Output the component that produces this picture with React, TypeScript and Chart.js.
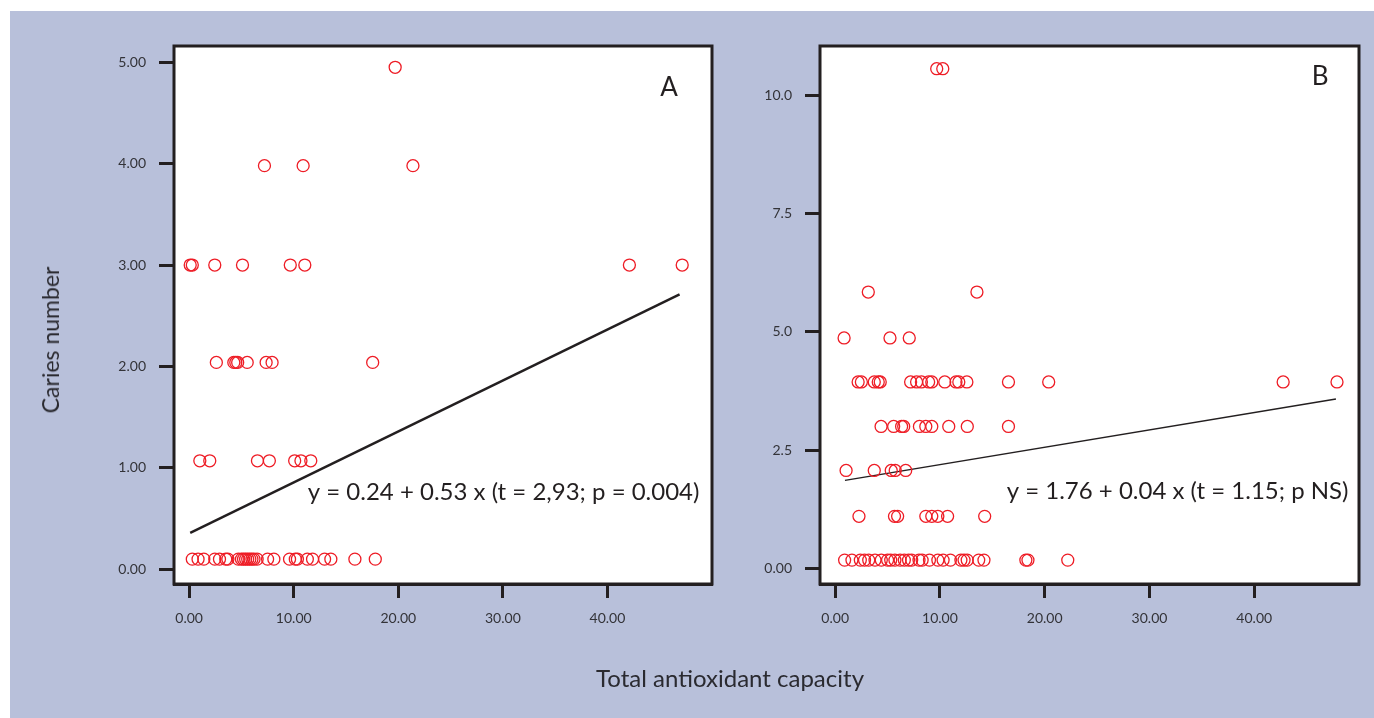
import React, { useEffect, useRef } from 'react';
import { Chart, registerables } from 'chart.js';
Chart.register(...registerables);

// ---- shared axis ticks ----
const xTicks = [0, 10, 20, 30, 40];
const xTickLabels = ['0.00', '10.00', '20.00', '30.00', '40.00'];

// ---- Panel A ----
const aYTicks = [0, 1, 2, 3, 4, 5];
const aYTickLabels = ['0.00', '1.00', '2.00', '3.00', '4.00', '5.00'];
const aLevels = [0.1, 1.07, 2.04, 3.0, 3.98, 4.95];
const aXLvl0 = [0.3, 0.85, 1.4, 2.45, 2.9, 3.5, 3.7, 4.7, 5.0, 5.2, 5.4, 5.6, 5.8, 6.0, 6.2, 6.5, 7.5, 8.1, 9.6, 10.15, 10.35, 11.3, 11.8, 12.95, 13.55, 15.85, 17.8];
const aXLvl1 = [1.02, 1.97, 6.53, 7.67, 10.09, 10.69, 11.63];
const aXLvl2 = [2.6, 4.27, 4.46, 4.64, 5.55, 7.36, 7.93, 17.55];
const aXLvl3 = [0.1, 0.3, 2.45, 5.1, 9.67, 11.06, 42.1, 47.15];
const aXLvl4 = [7.2, 10.9, 21.4];
const aXLvl5 = [19.7];
const aFitX = [0.1, 46.9];
const aFitY = [0.36, 2.71];
const aEquation = 'y = 0.24 + 0.53 x (t = 2,93; p = 0.004)';

// ---- Panel B ----
const bYTicks = [0, 2.5, 5, 7.5, 10];
const bYTickLabels = ['0.00', '2.5', '5.0', '7.5', '10.0'];
const bLevels = [0.175, 1.1, 2.07, 3.0, 3.94, 4.87, 5.84, 10.56];
const bXLvl0 = [0.9, 1.6, 2.4, 2.8, 3.2, 3.8, 4.4, 5.0, 5.3, 5.7, 6.2, 6.6, 7.0, 7.3, 8.0, 8.3, 9.0, 9.8, 10.3, 11.0, 12.0, 12.3, 12.6, 13.7, 14.2, 18.2, 18.4, 22.2];
const bXLvl1 = [2.27, 5.66, 5.96, 8.65, 9.22, 9.8, 10.73, 14.27];
const bXLvl2 = [1.04, 3.73, 5.35, 5.73, 6.73];
const bXLvl3 = [4.38, 5.58, 6.34, 6.54, 8.04, 8.65, 9.22, 10.84, 12.61, 16.54];
const bXLvl4 = [2.19, 2.5, 3.73, 4.11, 4.3, 7.2, 7.77, 8.23, 8.92, 9.22, 10.46, 11.53, 11.8, 12.57, 16.54, 20.38, 42.76, 47.9];
const bXLvl5 = [0.85, 5.23, 7.07];
const bXLvl6 = [3.16, 13.53];
const bXLvl7 = [9.69, 10.27];
const bFitX = [0.93, 47.8];
const bFitY = [1.86, 3.58];
const bEquation = 'y = 1.76 + 0.04 x (t = 1.15; p NS)';

const INK = '#231f20';
const RED = '#ee1c25';
const BG = '#b8c0da';
const FONT = 'Lato, "Open Sans", sans-serif';

type PanelProps = {
  levels: number[];
  xs: number[][];
  fitX: number[];
  fitY: number[];
  yTicks: number[];
  yTickLabels: string[];
  yMin: number;
  yMax: number;
  letter: string;
  letterPos: [number, number];
  equation: string;
  eqPos: [number, number];
  lineWidth: number;
  left: number;
  width: number;
  yAxisWidth: number;
  padRight: number;
};

function Panel(p: PanelProps) {
  const ref = useRef<HTMLCanvasElement | null>(null);
  useEffect(() => {
    if (!ref.current) return;
    const points: { x: number; y: number }[] = [];
    p.xs.forEach((arr, i) => arr.forEach((x) => points.push({ x, y: p.levels[i] })));
    const fit = p.fitX.map((x, i) => ({ x, y: p.fitY[i] }));
    const H = 718;
    const chartBottom = 584;
    const boxPlugin = {
      id: 'box',
      beforeDatasetsDraw(chart: any) {
        const { ctx, chartArea: a } = chart;
        ctx.save();
        ctx.fillStyle = '#ffffff';
        ctx.fillRect(a.left, a.top, a.right - a.left, a.bottom - a.top);
        ctx.restore();
      },
      afterDraw(chart: any) {
        const { ctx, chartArea: a, scales } = chart;
        ctx.save();
        ctx.strokeStyle = INK;
        ctx.lineWidth = 3;
        ctx.strokeRect(a.left, a.top, a.right - a.left, a.bottom - a.top);
        ctx.fillStyle = INK;
        ctx.font = `26px ${FONT}`;
        ctx.textAlign = 'center';
        ctx.textBaseline = 'middle';
        ctx.fillText(p.letter, scales.x.getPixelForValue(p.letterPos[0]), scales.y.getPixelForValue(p.letterPos[1]));
        ctx.font = `24px ${FONT}`;
        ctx.textAlign = 'right';
        ctx.fillText(p.equation, scales.x.getPixelForValue(p.eqPos[0]), scales.y.getPixelForValue(p.eqPos[1]));
        ctx.restore();
      },
    };
    const chart = new Chart(ref.current, {
      type: 'scatter',
      data: {
        datasets: [
          {
            type: 'line',
            data: fit,
            borderColor: INK,
            borderWidth: p.lineWidth,
            pointRadius: 0,
            fill: false,
            order: 2,
          } as any,
          {
            type: 'scatter',
            data: points,
            pointStyle: 'circle',
            pointRadius: 6,
            borderWidth: 1.3,
            borderColor: RED,
            backgroundColor: 'rgba(0,0,0,0)',
            order: 1,
          },
        ],
      },
      options: {
        animation: false,
        responsive: false,
        maintainAspectRatio: false,
        layout: { padding: { top: 46, left: 0, right: p.padRight, bottom: 0 } },
        plugins: { legend: { display: false }, tooltip: { enabled: false } },
        scales: {
          x: {
            type: 'linear',
            min: -1.45,
            max: 50,
            afterBuildTicks: (s: any) => {
              s.ticks = xTicks.map((v) => ({ value: v }));
            },
            afterFit: (s: any) => {
              s.height = H - chartBottom;
            },
            ticks: {
              autoSkip: false,
              maxRotation: 0,
              padding: 12,
              color: '#333338',
              font: { family: FONT, size: 14 },
              callback: (_v: any, i: number) => xTickLabels[i],
            },
            grid: { drawOnChartArea: false, drawTicks: true, tickLength: 14, tickWidth: 3, tickColor: INK },
            border: { display: true, width: 3, color: INK },
          },
          y: {
            type: 'linear',
            min: p.yMin,
            max: p.yMax,
            afterBuildTicks: (s: any) => {
              s.ticks = p.yTicks.map((v) => ({ value: v }));
            },
            afterFit: (s: any) => {
              s.width = p.yAxisWidth;
            },
            ticks: {
              autoSkip: false,
              padding: 13,
              color: '#333338',
              font: { family: FONT, size: 14 },
              callback: (_v: any, i: number) => p.yTickLabels[i],
            },
            grid: { drawOnChartArea: false, drawTicks: true, tickLength: 15, tickWidth: 3, tickColor: INK },
            border: { display: true, width: 3, color: INK },
          },
        },
      },
      plugins: [boxPlugin],
    });
    return () => chart.destroy();
  }, []);
  return (
    <canvas
      ref={ref}
      width={p.width}
      height={718}
      style={{ position: 'absolute', left: p.left, top: 0, width: p.width, height: 718 }}
    />
  );
}

export default function App() {
  return (
    <div style={{ position: 'absolute', left: 0, top: 0, width: 1374, height: 718, background: '#ffffff', overflow: 'hidden' }}>
      <div style={{ position: 'absolute', left: 10, top: 11, right: 0, bottom: 0, background: BG }} />
      <Panel
        levels={aLevels}
        xs={[aXLvl0, aXLvl1, aXLvl2, aXLvl3, aXLvl4, aXLvl5]}
        fitX={aFitX}
        fitY={aFitY}
        yTicks={aYTicks}
        yTickLabels={aYTickLabels}
        yMin={-0.145}
        yMax={5.16}
        letter="A"
        letterPos={[45.9, 4.75]}
        equation={aEquation}
        eqPos={[48.8, 0.76]}
        lineWidth={2.5}
        left={0}
        width={740}
        yAxisWidth={174}
        padRight={28}
      />
      <Panel
        levels={bLevels}
        xs={[bXLvl0, bXLvl1, bXLvl2, bXLvl3, bXLvl4, bXLvl5, bXLvl6, bXLvl7]}
        fitX={bFitX}
        fitY={bFitY}
        yTicks={bYTicks}
        yTickLabels={bYTickLabels}
        yMin={-0.33}
        yMax={11.04}
        letter="B"
        letterPos={[46.3, 10.4]}
        equation={bEquation}
        eqPos={[49.0, 1.63]}
        lineWidth={1.5}
        left={700}
        width={674}
        yAxisWidth={120}
        padRight={15}
      />
      <div
        style={{
          position: 'absolute',
          left: 50,
          top: 340,
          transform: 'translate(-50%, -50%) rotate(-90deg)',
          whiteSpace: 'nowrap',
          fontFamily: FONT,
          fontSize: 23,
          color: '#2a2a30',
        }}
      >
        Caries number
      </div>
      <div
        style={{
          position: 'absolute',
          left: 730,
          top: 677,
          transform: 'translate(-50%, -50%)',
          whiteSpace: 'nowrap',
          fontFamily: FONT,
          fontSize: 24,
          color: '#2a2a30',
        }}
      >
        Total antioxidant capacity
      </div>
    </div>
  );
}
